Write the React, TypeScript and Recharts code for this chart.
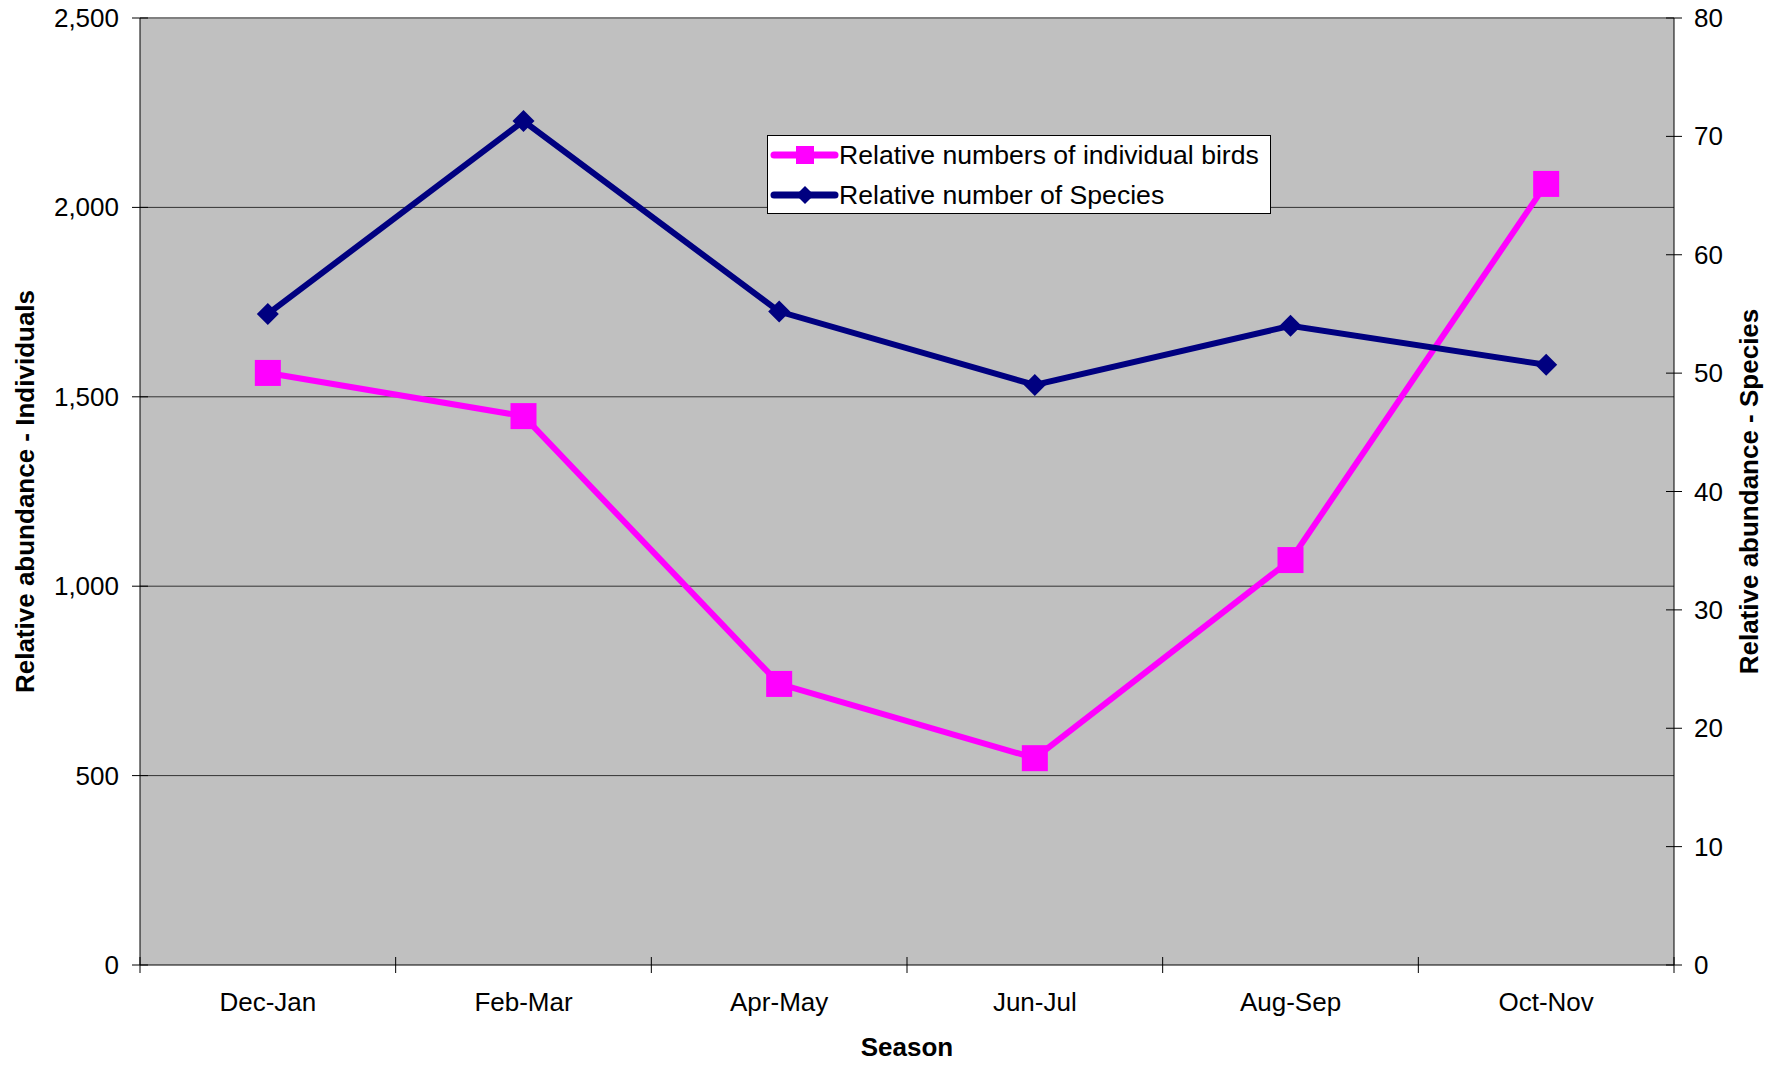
import React from 'react';
import {
    ComposedChart,
    Line,
    XAxis,
    YAxis,
    CartesianGrid,
    Legend,
    ReferenceLine
} from 'recharts';

const seasons = ['Dec-Jan', 'Feb-Mar', 'Apr-May', 'Jun-Jul', 'Aug-Sep', 'Oct-Nov'];
const individuals = [1563, 1449, 742, 546, 1069, 2062];
const species = [55.0, 71.3, 55.2, 49.0, 54.0, 50.7];
const leftTicks = [0, 500, 1000, 1500, 2000, 2500];
const rightTicks = [0, 10, 20, 30, 40, 50, 60, 70, 80];

const PINK = '#FF00FF';
const NAVY = '#000080';
const FONT = '"Liberation Sans", Arial, sans-serif';

const W = 1784;
const H = 1065;
const PLOT_LEFT = 140;
const PLOT_RIGHT = 1674;
const BAND = (PLOT_RIGHT - PLOT_LEFT) / seasons.length;

const fmt = (v: number) => v.toLocaleString('en-US');

const data = seasons.map((s, i) => ({ season: s, individuals: individuals[i], species: species[i] }));

const SquareDot = (props: any) => {
    const { cx, cy } = props;
    if (cx == null || cy == null) return null;
    return <rect x={cx - 13} y={cy - 13} width={26} height={26} fill={PINK} />;
};

const DiamondDot = (props: any) => {
    const { cx, cy } = props;
    if (cx == null || cy == null) return null;
    const r = 11;
    return <path d={`M${cx},${cy - r}L${cx + r},${cy}L${cx},${cy + r}L${cx - r},${cy}Z`} fill={NAVY} />;
};

const XTick = (props: any) => {
    const { x, y, payload, index } = props;
    const left = x - BAND / 2;
    return (
        <g>
            <line x1={left} x2={left} y1={y - 8} y2={y + 8} stroke="#000" />
            {index === seasons.length - 1 && (
                <line x1={x + BAND / 2} x2={x + BAND / 2} y1={y - 8} y2={y + 8} stroke="#000" />
            )}
            <text x={x} y={y + 46} textAnchor="middle" fontSize={26} fontFamily={FONT} fill="#000">
                {payload.value}
            </text>
        </g>
    );
};

const LeftTick = (props: any) => {
    const { x, y, payload } = props;
    return (
        <g>
            <line x1={x - 8} x2={x + 8} y1={y} y2={y} stroke="#000" />
            <text x={x - 21} y={y + 9} textAnchor="end" fontSize={26} fontFamily={FONT} fill="#000">
                {fmt(payload.value)}
            </text>
        </g>
    );
};

const RightTick = (props: any) => {
    const { x, y, payload } = props;
    return (
        <g>
            <line x1={x - 8} x2={x + 8} y1={y} y2={y} stroke="#000" />
            <text x={x + 20} y={y + 9} textAnchor="start" fontSize={26} fontFamily={FONT} fill="#000">
                {payload.value}
            </text>
        </g>
    );
};

const LegendBox = () => {
    const rows = [
        { label: 'Relative numbers of individual birds', color: PINK, shape: 'square' },
        { label: 'Relative number of Species', color: NAVY, shape: 'diamond' }
    ];
    return (
        <svg width={504} height={79} style={{ display: 'block' }}>
            <rect x={0.5} y={0.5} width={503} height={78} fill="#fff" stroke="#000" />
            {rows.map((r, i) => {
                const cy = 20 + i * 40;
                return (
                    <g key={r.label}>
                        <line x1={7} x2={68} y1={cy} y2={cy} stroke={r.color} strokeWidth={7} strokeLinecap="round" />
                        {r.shape === 'square' ? (
                            <rect x={29} y={cy - 9} width={18} height={18} fill={r.color} />
                        ) : (
                            <path d={`M38,${cy - 9}L47,${cy}L38,${cy + 9}L29,${cy}Z`} fill={r.color} />
                        )}
                        <text x={72} y={cy + 9} fontSize={26.6} fontFamily={FONT} fill="#000">
                            {r.label}
                        </text>
                    </g>
                );
            })}
        </svg>
    );
};

const App: React.FC = () => {
    return (
        <div style={{ position: 'absolute', left: 0, top: 0, width: W, height: H, background: '#fff' }}>
            <ComposedChart width={W} height={H} data={data} margin={{ top: 18, right: 0, bottom: 0, left: 0 }}>
                <CartesianGrid
                    yAxisId="left"
                    vertical={false}
                    fill="#C0C0C0"
                    stroke="#333"
                    horizontalValues={[500, 1000, 1500, 2000]}
                />
                <ReferenceLine yAxisId="left" y={2500} stroke="#808080" strokeWidth={2} />
                <XAxis
                    dataKey="season"
                    scale="band"
                    height={100}
                    stroke="#000"
                    tickLine={false}
                    tickSize={0}
                    tickMargin={0}
                    tick={<XTick />}
                    interval={0}
                    label={{
                        value: 'Season',
                        position: 'insideBottom',
                        offset: 9,
                        fontSize: 26,
                        fontWeight: 'bold',
                        fontFamily: FONT,
                        fill: '#000'
                    }}
                />
                <YAxis
                    yAxisId="left"
                    orientation="left"
                    width={PLOT_LEFT}
                    domain={[0, 2500]}
                    ticks={leftTicks}
                    stroke="#000"
                    tickLine={false}
                    tickSize={0}
                    tickMargin={0}
                    tick={<LeftTick />}
                    label={(p: any) => {
                        const vb = p.viewBox;
                        const cy = vb.y + vb.height / 2;
                        return (
                            <text
                                x={25}
                                y={cy}
                                transform={`rotate(-90 25 ${cy})`}
                                textAnchor="middle"
                                dominantBaseline="central"
                                fontSize={26}
                                fontWeight="bold"
                                fontFamily={FONT}
                                fill="#000"
                            >
                                Relative abundance - Individuals
                            </text>
                        );
                    }}
                />
                <YAxis
                    yAxisId="right"
                    orientation="right"
                    width={W - PLOT_RIGHT}
                    domain={[0, 80]}
                    ticks={rightTicks}
                    stroke="#000"
                    tickLine={false}
                    tickSize={0}
                    tickMargin={0}
                    tick={<RightTick />}
                    label={(p: any) => {
                        const vb = p.viewBox;
                        const cy = vb.y + vb.height / 2;
                        return (
                            <text
                                x={1749}
                                y={cy}
                                transform={`rotate(-90 1749 ${cy})`}
                                textAnchor="middle"
                                dominantBaseline="central"
                                fontSize={26}
                                fontWeight="bold"
                                fontFamily={FONT}
                                fill="#000"
                            >
                                Relative abundance - Species
                            </text>
                        );
                    }}
                />
                <Legend
                    layout="vertical"
                    align="center"
                    verticalAlign="middle"
                    wrapperStyle={{ left: 767, top: 135, width: 504 }}
                    content={<LegendBox />}
                />
                <Line
                    yAxisId="left"
                    dataKey="individuals"
                    name="Relative numbers of individual birds"
                    stroke={PINK}
                    strokeWidth={6}
                    dot={<SquareDot />}
                    activeDot={false}
                    isAnimationActive={false}
                />
                <Line
                    yAxisId="right"
                    dataKey="species"
                    name="Relative number of Species"
                    stroke={NAVY}
                    strokeWidth={6}
                    dot={<DiamondDot />}
                    activeDot={false}
                    isAnimationActive={false}
                />
            </ComposedChart>
        </div>
    );
};

export default App;
